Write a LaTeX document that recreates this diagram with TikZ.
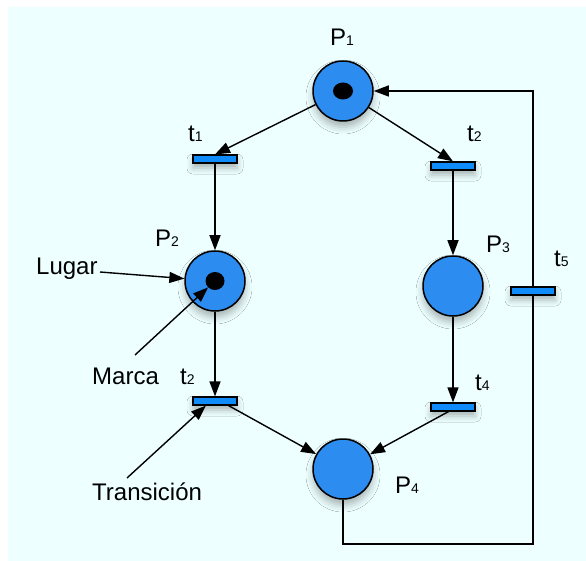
\documentclass[tikz,border=0pt]{standalone}
\usepackage{fontspec}
\setmainfont{Liberation Sans}
\usetikzlibrary{arrows.meta,shadows.blur,calc,shapes.geometric}
\definecolor{bgcol}{RGB}{238,255,255}
\definecolor{placecol}{RGB}{45,140,240}
\definecolor{barcol}{RGB}{15,140,250}
\newcommand\smallnum[1]{{\fontsize{14}{14}\selectfont #1}}
\tikzset{
  place/.style={circle,draw=black,line width=1.5pt,fill=placecol,minimum size=60pt,inner sep=0pt,
    blur shadow={shadow blur radius=7pt,shadow xshift=0pt,shadow yshift=-6pt,shadow opacity=30}},
  trans/.style={rectangle,draw=black,line width=1.2pt,fill=barcol,minimum width=44pt,minimum height=8pt,inner sep=0pt,
    blur shadow={shadow blur radius=6pt,shadow xshift=0pt,shadow yshift=-5pt,shadow opacity=30}},
  token/.style={ellipse,fill=black,minimum width=20pt,minimum height=17pt,inner sep=0pt},
  lbl/.style={anchor=base west,inner sep=0pt,font=\fontsize{24}{24}\selectfont},
  arc/.style={line width=1.4pt,-{Triangle[length=15pt,width=11pt]}},
  plain/.style={line width=1.4pt},
}
\begin{document}
\begin{tikzpicture}[x=1pt,y=-1pt]
\useasboundingbox (0,0) rectangle (586,561);
\fill[white] (0,0) rectangle (586,561);
\fill[bgcol] (8,7) rectangle (586,561);

% places
\node[place] (P1) at (343,91) {};
\node[token] (k1) at (343,91) {};
\node[place] (P2) at (215,281) {};
\node[token,minimum width=19pt,minimum height=18pt] (k2) at (215,281) {};
\node[place] (P3) at (453,286) {};
\node[place] (P4) at (343,469) {};

% transitions
\node[trans] (t1) at (215,159) {};
\node[trans] (t2) at (453,166) {};
\node[trans] (t2l) at (215,401) {};
\node[trans] (t4) at (453,407) {};
\node[trans] (t5) at (533,291) {};

% labels
\node[lbl] (lP1) at (330,46) {P\smallnum{1}};
\node[lbl] (lt1) at (188,142) {t\smallnum{1}};
\node[lbl] (lt2) at (467,142) {t\smallnum{2}};
\node[lbl] (lP2) at (155,247) {P\smallnum{2}};
\node[lbl] (lP3) at (486,253) {P\smallnum{3}};
\node[lbl] (lt5) at (554,266) {t\smallnum{5}};
\node[lbl] (lt2l) at (180,384) {t\smallnum{2}};
\node[lbl] (lt4) at (475,390) {t\smallnum{4}};
\node[lbl] (lP4) at (395,493) {P\smallnum{4}};
\node[lbl] (lugar) at (36,275) {Lugar};
\node[lbl] (marca) at (92,384) {Marca};
\node[lbl] (transi) at (92,500) {Transición};

% helper coordinates
\coordinate (lugarend) at (100,272);
\coordinate (marcaend) at (135,355);
\coordinate (transend) at (127,478);
\coordinate (t2lhit) at ($(t2l.south west)!0.3!(t2l.south east)$);
\coordinate (t2lout) at ($(t2l.south)!0.6!(t2l.south east)$);
\coordinate (t4out) at ($(t4.south)!0.2!(t4.south west)$);
\coordinate (corner) at (533,544);

% arcs
\draw[arc] (P1) -- (t1.north);
\draw[arc] (P1) -- (t2.north);
\draw[arc] (t1.south) -- (P2);
\draw[arc] (t2.south) -- (P3);
\draw[arc] (P2) -- (t2l.north);
\draw[arc] (P3) -- (t4.north);
\draw[arc] (t2lout) -- (P4);
\draw[arc] (t4out) -- (P4);
\draw[plain] (P4.south) |- (corner) -- (t5.south);
\draw[arc] (t5.north) |- (P1.east);

% annotation arrows
\draw[arc] (lugarend) -- (P2);
\draw[arc] (marcaend) -- (k2);
\draw[arc] (transend) -- (t2lhit);
\end{tikzpicture}
\end{document}
